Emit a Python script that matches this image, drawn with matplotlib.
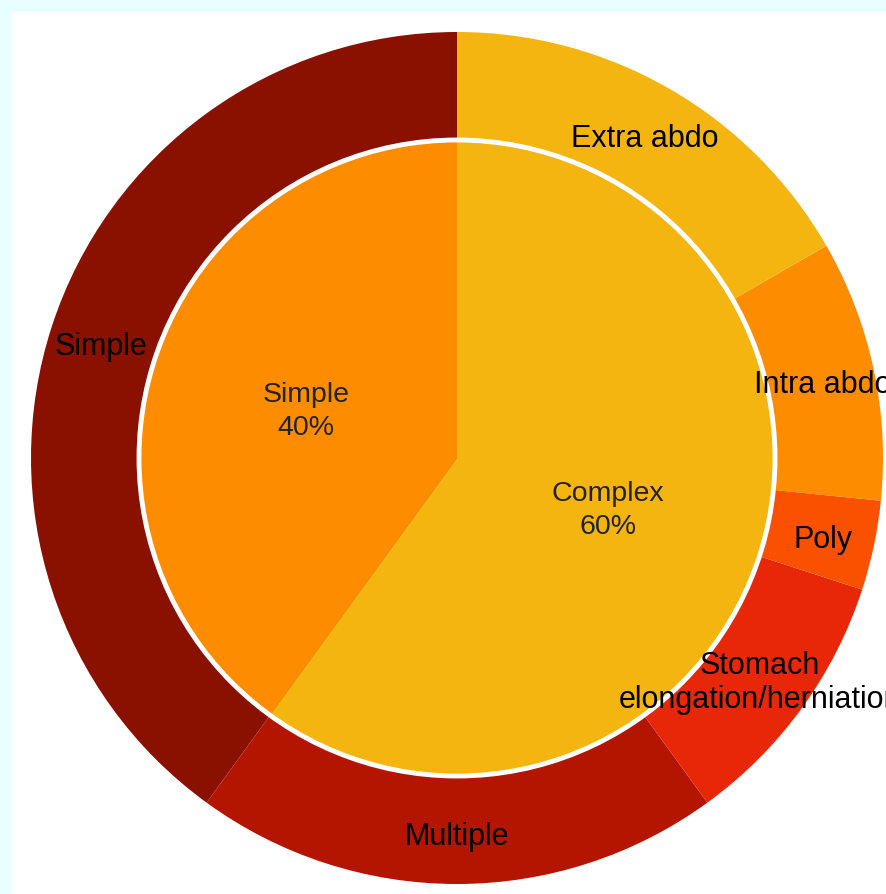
import numpy as np
import matplotlib
matplotlib.use('Agg')
import matplotlib.pyplot as plt
from matplotlib.patches import Circle

plt.rcParams['font.family'] = ['Liberation Sans', 'DejaVu Sans']

# inner ring: main groups
inner_labels = ['Simple', 'Complex']
inner_values = [40, 60]
inner_colors = ['#fe8c00', '#f4b510']

# outer ring: sub groups
outer_labels = ['Simple', 'Multiple', 'Stomach\nelongation/herniation', 'Poly', 'Intra abdo', 'Extra abdo']
outer_values = [40, 20, 10, 3.4, 9.9, 16.7]
outer_colors = ['#8a1000', '#b41500', '#e82708', '#fa5100', '#fe8c00', '#f4b510']

W, H = 887, 895
fig = plt.figure(figsize=(W / 100, H / 100), dpi=100)
fig.patch.set_facecolor('#e8ffff')

# white panel, offset from top-left
left, top = 12, 13
ax = fig.add_axes([left / W, 0, 1 - left / W, 1 - top / H])

cx, cy, R = 457, 459, 426  # pixel centre and outer radius
r_in = 318 / R

outer_w, _ = ax.pie(outer_values, colors=outer_colors, radius=1, startangle=90,
                    counterclock=True, wedgeprops=dict(linewidth=0))
inner_w, _ = ax.pie(inner_values, colors=inner_colors, radius=r_in, startangle=90,
                    counterclock=True, wedgeprops=dict(linewidth=0))
ax.set_xlim((left - cx) / R, (W - cx) / R)
ax.set_ylim(-(H - cy) / R, (cy - top) / R)
ax.set_aspect('auto')
ax.set_frame_on(True)
ax.set_facecolor('white')
for s in ax.spines.values():
    s.set_visible(False)
ax.set_xticks([])
ax.set_yticks([])

ax.add_patch(Circle((0, 0), r_in, facecolor='none', edgecolor='white', linewidth=3.5, zorder=5))

dy = -4 / R  # small nudge down
for w, lab in zip(outer_w, outer_labels):
    ang = np.deg2rad((w.theta1 + w.theta2) / 2)
    rr = 0.878
    ax.text(rr * np.cos(ang), rr * np.sin(ang) + dy, lab, ha='center', va='center',
            fontsize=22, color='black', linespacing=1.2, zorder=6)

for w, lab, v in zip(inner_w, inner_labels, inner_values):
    ang = np.deg2rad((w.theta1 + w.theta2) / 2)
    rr = r_in * 0.5
    ax.text(rr * np.cos(ang), rr * np.sin(ang) - 2 / R, '%s\n%d%%' % (lab, v), ha='center', va='center',
            fontsize=20.5, color='#222222', linespacing=1.35, zorder=6)

fig.savefig('out.png', dpi=100, facecolor=fig.get_facecolor())
